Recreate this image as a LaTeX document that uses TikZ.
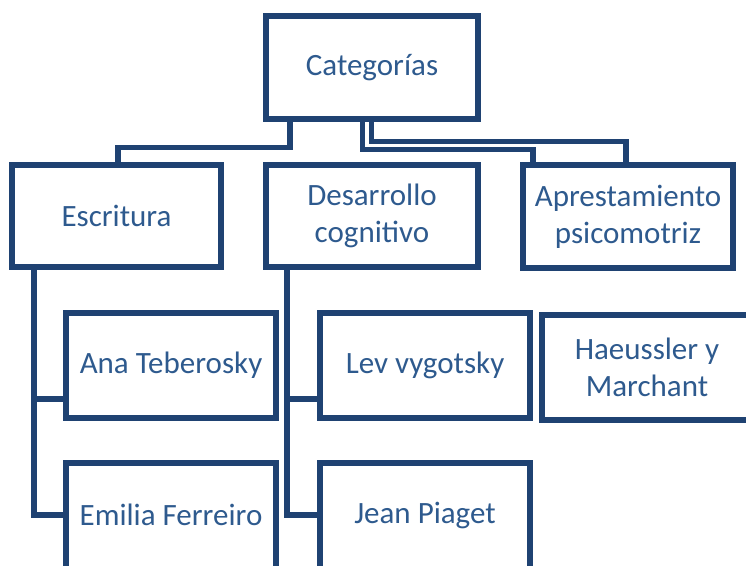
\documentclass[tikz,border=0pt]{standalone}
\usepackage{fontspec}
\setmainfont{Carlito}
\definecolor{boxline}{HTML}{1F4272}
\definecolor{boxtext}{HTML}{2E5A8E}
\begin{document}
\begin{tikzpicture}[x=1pt,y=-1pt,
  boxbase/.style={rectangle, inner sep=0pt, align=center,
    text=boxtext, font=\fontsize{31}{37}\selectfont},
  box/.style={boxbase, draw=boxline, line width=5.8pt},
  edge/.style={draw=boxline, line width=5.8pt, line join=miter},
  conn/.style={draw=boxline, line width=5.8pt, line join=miter}]
\useasboundingbox (0,0) rectangle (746,565);
\clip (0,0) rectangle (746,565);
\node[box, minimum width=212pt, minimum height=103pt] (cat) at (372,67.5) {Categorías};
\node[box, minimum width=209pt, minimum height=102pt] (esc) at (116.5,216) {Escritura};
\node[box, minimum width=212pt, minimum height=102pt] (des) at (372,216) {Desarrollo\\cognitivo};
\node[box, minimum width=210pt, minimum height=103pt] (apr) at (628,216.5) {Aprestamiento\\psicomotriz};
\node[box, minimum width=210pt, minimum height=105pt] (ana) at (171,365.5) {Ana Teberosky};
\node[boxbase, minimum width=210pt, minimum height=104pt] (emi) at (171,515) {Emilia Ferreiro};
\node[box, minimum width=210pt, minimum height=105pt] (lev) at (425,365.5) {Lev vygotsky};
\node[boxbase, minimum width=210pt, minimum height=104pt] (jea) at (425,515) {Jean Piaget};
\node[box, minimum width=210pt, minimum height=105pt] (hae) at (647,367.5) {Haeussler y\\Marchant};
% bottom boxes run past the lower edge
\draw[edge] (emi.north west) rectangle (emi.east |- 0,590);
\draw[edge] (jea.north west) rectangle (jea.east |- 0,590);
% connectors from Categorías
\draw[conn] (cat.south -| 290,0) |- (118,147.5) -- (118,0 |- esc.north);
\draw[conn] (cat.south -| 362.5,0) |- (533,149.5) -- (533,0 |- apr.north);
\draw[conn] (cat.south -| 371.5,0) |- (626,141.5) -- (626,0 |- apr.north);
% Escritura children
\draw[conn] (34,0 |- esc.south) |- (emi.west);
\draw[conn] (34,399) -- (ana.west |- 0,399);
% Desarrollo children
\draw[conn] (287,0 |- des.south) |- (jea.west);
\draw[conn] (287,399) -- (lev.west |- 0,399);
\end{tikzpicture}
\end{document}
